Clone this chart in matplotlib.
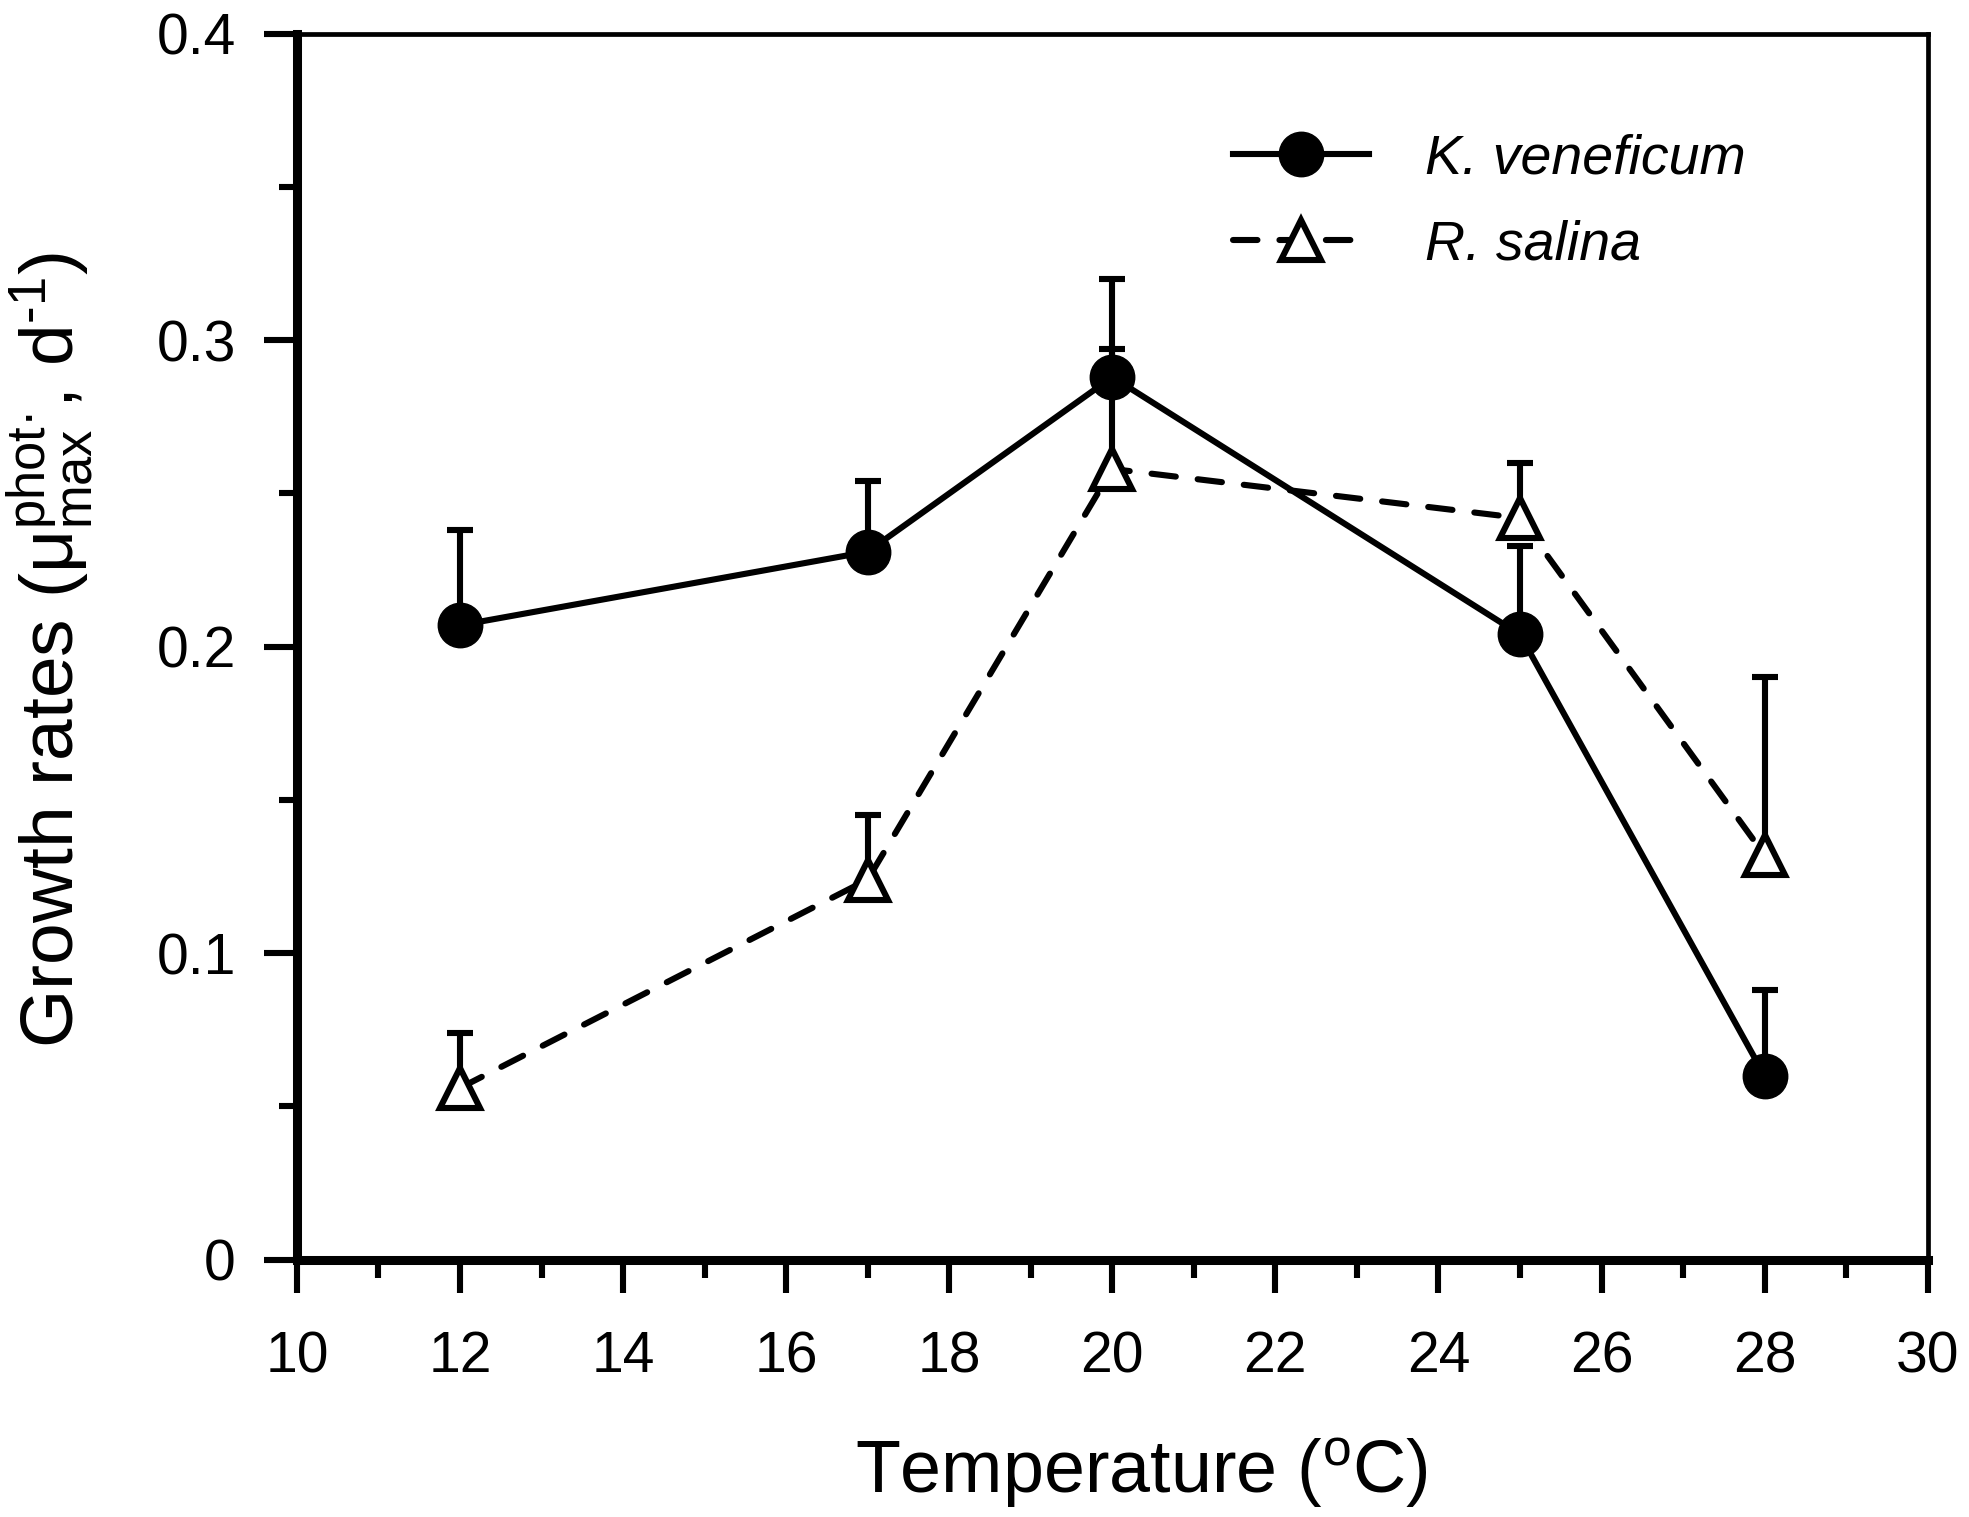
import matplotlib
matplotlib.use('Agg')
import matplotlib.pyplot as plt
from matplotlib.ticker import MultipleLocator

#1. Данные
temps = [12, 17, 20, 25, 28]
k_vals = [0.207, 0.231, 0.288, 0.204, 0.060]
k_err = [0.031, 0.023, 0.032, 0.029, 0.028]
r_vals = [0.056, 0.124, 0.258, 0.242, 0.132]
r_err = [0.018, 0.021, 0.039, 0.018, 0.058]

x_ticks = [10, 12, 14, 16, 18, 20, 22, 24, 26, 28, 30]
y_ticks = [0, 0.1, 0.2, 0.3, 0.4]
y_tick_labels = ['0', '0.1', '0.2', '0.3', '0.4']

#2. Шрифты
plt.rcParams['font.family'] = ['Liberation Sans', 'DejaVu Sans']
plt.rcParams['mathtext.fontset'] = 'custom'
plt.rcParams['mathtext.rm'] = 'Liberation Sans'
plt.rcParams['mathtext.it'] = 'Liberation Sans:italic'

fig = plt.figure(figsize=(19.69, 15.17), dpi=100)
ax = fig.add_axes([0.1508, 0.1697, 0.8282, 0.808])

lw = 4.4

#3. Планки погрешностей (только вверх)
k_top = [v + e for v, e in zip(k_vals, k_err)]
r_top = [v + e for v, e in zip(r_vals, r_err)]
ax.vlines(temps, k_vals, k_top, color='black', lw=lw, zorder=2)
ax.vlines(temps, r_vals, r_top, color='black', lw=lw, zorder=2)
ax.plot(temps, k_top, ls='none', marker='_', ms=19, mew=lw, color='black', zorder=2)
ax.plot(temps, r_top, ls='none', marker='_', ms=19, mew=lw, color='black', zorder=2)

#4. Линии с маркерами
ax.plot(temps, k_vals, '-', color='black', lw=lw, marker='o', ms=32,
        mfc='black', mec='black', label='K. veneficum', zorder=3)
ax.plot(temps, r_vals, color='black', lw=lw, dashes=(4.0, 3.6),
        dash_capstyle='round', marker='^', ms=29, mfc='white', mec='black',
        mew=lw, label='R. salina', zorder=3)

#5. Оси и деления
ax.set_xlim(10, 30)
ax.set_ylim(0, 0.4)
ax.set_xticks(x_ticks)
ax.set_yticks(y_ticks)
ax.set_yticklabels(y_tick_labels)
ax.xaxis.set_minor_locator(MultipleLocator(1))
ax.yaxis.set_minor_locator(MultipleLocator(0.05))
ax.tick_params(which='major', direction='out', length=24, width=lw, labelsize=41)
ax.tick_params(which='minor', direction='out', length=13, width=lw)
ax.tick_params(axis='x', which='major', pad=27)
ax.tick_params(axis='y', which='major', pad=20)
ax.tick_params(which='both', top=False, right=False)

ax.spines['left'].set_linewidth(6.5)
ax.spines['bottom'].set_linewidth(6.5)
ax.spines['top'].set_linewidth(3.4)
ax.spines['right'].set_linewidth(3.4)

#6. Подписи осей
fig.text(0.0375, 0.5715,
         r'Growth rates ($\mathrm{μ}_{\mathrm{max}}^{\mathrm{phot·}}$, d$^{\text{-1}}$)',
         rotation=90, rotation_mode='anchor', ha='center', va='baseline', fontsize=54)
fig.text(0.5795, 0.0158, r'Temperature ($^{\mathrm{o}}$C)',
         ha='center', va='baseline', fontsize=53)

#7. Легенда
ax.legend(loc='upper left', bbox_to_anchor=(0.6262, 0.912), bbox_transform=fig.transFigure,
          frameon=False, numpoints=1, handlelength=2.45, handletextpad=1.0,
          labelspacing=0.62, borderpad=0, borderaxespad=0,
          prop={'size': 40, 'style': 'italic'})

fig.savefig('out.png', dpi=100)
